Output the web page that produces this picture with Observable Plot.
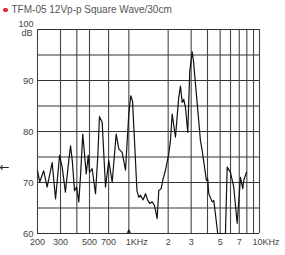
<!DOCTYPE html>
<html>
<head>
<meta charset="utf-8">
<script src="https://cdn.jsdelivr.net/npm/d3@7"></script>
<script src="https://cdn.jsdelivr.net/npm/@observablehq/plot@0.6"></script>
<style>
  body { margin: 0; background: #fff; }
  #wrap { position: relative; width: 285px; height: 255px; font-family: "Liberation Sans", Arial, sans-serif; }
  #title { position: absolute; left: 3px; top: 4px; height: 12px; font-size: 10px; line-height: 12px; color: #555; white-space: nowrap; background: transparent; }
  #title .dot { display: inline-block; width: 4.5px; height: 4.5px; border-radius: 50%; background: #e0262b; margin-right: 4px; vertical-align: 1px; }
  #chart { position: absolute; left: 0; top: 0; }
</style>
</head>
<body>
<div id="wrap">
  <div id="chart"></div>
  <div id="title"><span class="dot"></span>TFM-05 12Vp-p Square Wave/30cm</div>
</div>
<script>
const freq = [200,208,223,237,259,275,295,309,327,347,358,369,384,398,414,427,444,472,489,500,
  524,556,579,596,625,663,702,746,800,838,889,943,999,1035,1067,1105,1154,1192,1228,1287,
  1341,1396,1446,1509,1571,1627,1647,1695,1768,1818,1907,2021,2082,2146,2274,2410,2484,2560,2633,2714,
  2825,2927,3053,3124,3533,3640,3926,4018,4090,4343,4468,4791,5489,5657,5995,6352,6745,7150,7446,7577,7944];
const spl = [72.3,70.1,72.3,69.1,73.9,66.8,75.3,73.0,68.1,74.3,77.2,74.3,68.4,69.1,66.2,71.4,79.5,71.7,75.3,72.0,
  72.7,67.8,75.3,82.9,81.8,69.1,74.3,70.1,79.5,76.6,75.9,72.4,83.4,87.0,86.0,78.2,68.4,67.1,67.5,66.6,
  67.8,66.5,65.9,66.2,65.5,63.6,62.9,68.4,68.8,70.4,72.4,75.6,78.2,83.4,78.9,86.7,88.9,85.7,86.3,84.7,
  79.8,91.9,95.6,93.8,78.2,76.3,70.4,70.7,67.8,66.2,66.5,60,60,73.0,72.0,69.1,62.0,71.0,68.8,70.4,72.0];

const gridX = [200,300,400,500,700,1000,2000,3000,4000,5000,6000,7000,8000,9000,10000];
const gridY = [60,65,70,75,80,85,90,95,100];
const yTicks = [60,70,80,90];
const xTickValues = [200,300,500,700,2000,3000,5000,7000];
const xTickLabels = ["200","300","500","700","2","3","5","7"];
const khzValues = [1000,10000];
const khzLabels = ["1KHz","10KHz"];
const khzShift = [-3,-7];
const refLevel = 73.1;
const fMin = 200, fMax = 10000, dbMin = 60, dbMax = 100;

const curve = freq.map((f, i) => ({f, db: spl[i]}));
const hRules = gridY.map(v => ({v, a: fMin, b: fMax, major: v % 10 === 0}));
const vRules = gridX.map(v => ({v, a: dbMin, b: dbMax}));
const yLab = yTicks.map(v => ({x: fMin, y: v, t: String(v)}));
const topLab = [{x: fMin, y: dbMax, t: "100"}];
const unitLab = [{x: fMin, y: dbMax, t: "dB"}];
const xLab = xTickValues.map((v, i) => ({x: v, y: dbMin, t: xTickLabels[i]}));
const kLab = khzValues.map((v, i) => ({x: v, y: dbMin, t: khzLabels[i]}));
const marker = [{x: 1000, y: dbMin}];
const arrowData = [{x: fMin, y: refLevel, t: "←"}];

const chart = Plot.plot({
  width: 285,
  height: 255,
  marginLeft: 37,
  marginRight: 26,
  marginTop: 29,
  marginBottom: 22,
  style: {fontFamily: "'Liberation Sans', Arial, sans-serif", fontSize: "9.5px", color: "#444", background: "transparent"},
  x: {type: "log", domain: [fMin, fMax], axis: null},
  y: {domain: [dbMin, dbMax], axis: null},
  marks: [
    Plot.ruleY(hRules.filter(d => !d.major), {y: "v", x1: "a", x2: "b", stroke: "#777", strokeWidth: 1.3}),
    Plot.ruleY(hRules.filter(d => d.major), {y: "v", x1: "a", x2: "b", stroke: "#333", strokeWidth: 1}),
    Plot.ruleX(vRules, {x: "v", y1: "a", y2: "b", stroke: "#444", strokeWidth: 1.1}),
    Plot.line(curve, {x: "f", y: "db", stroke: "#111", strokeWidth: 1.2, strokeLinejoin: "round"}),
    Plot.dot(marker, {x: "x", y: "y", symbol: "triangle", r: 1.6, fill: "#111", stroke: "none", dy: -2}),
    Plot.text(yLab, {x: "x", y: "y", text: "t", textAnchor: "end", dx: -4, fill: "#444", fontSize: 9.5}),
    Plot.text(topLab, {x: "x", y: "y", text: "t", textAnchor: "end", lineAnchor: "bottom", dx: -4, dy: -2.5, fill: "#444", fontSize: 9}),
    Plot.text(unitLab, {x: "x", y: "y", text: "t", textAnchor: "end", lineAnchor: "top", dx: -5, dy: 0.5, fill: "#444", fontSize: 9}),
    Plot.text(xLab, {x: "x", y: "y", text: "t", textAnchor: "middle", dy: 9, fill: "#444", fontSize: 9}),
    Plot.text([kLab[0]], {x: "x", y: "y", text: "t", textAnchor: "start", dx: khzShift[0], dy: 9, fill: "#444", fontSize: 9}),
    Plot.text([kLab[1]], {x: "x", y: "y", text: "t", textAnchor: "start", dx: khzShift[1], dy: 9, fill: "#444", fontSize: 9}),
    Plot.text(arrowData, {x: "x", y: "y", text: "t", textAnchor: "start", dx: -38, fill: "#222", fontSize: 12, fontFamily: "DejaVu Sans"})
  ]
});
document.getElementById("chart").appendChild(chart);
</script>
</body>
</html>
